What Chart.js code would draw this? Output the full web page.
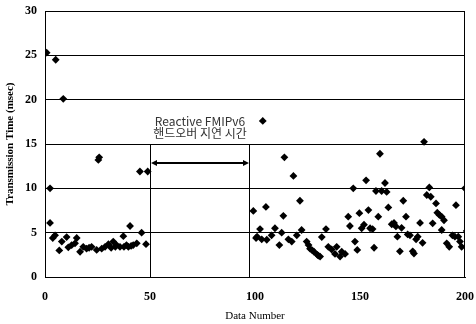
<!DOCTYPE html>
<html>
<head>
<meta charset="utf-8">
<script src="https://cdn.jsdelivr.net/npm/chart.js@4/dist/chart.umd.min.js"></script>
<style>
  html, body { margin: 0; padding: 0; background: #fff; }
</style>
</head>
<body>
<canvas id="chart" width="476" height="324"></canvas>
<script>
// --- data ---
const dataNumber = [
  0.8, 5.1, 8.7, 2.4, 2.4, 4.8, 3.7, 8, 6.8, 10.3, 11.1, 12.7, 15.1, 14.3, 16.7, 18.2, 19.8, 21, 22.2, 24.6,
  25.4, 25.8, 27, 28.6, 30.2, 31.5, 32.5, 33.5, 34.1, 35.7, 37.3, 37.6, 38.8, 39.7, 40.5, 41, 42, 43.7,
  45.2, 46, 48.1, 48.9,
  103.7, 114, 118.3, 121.4, 99.2, 105.2, 113.5, 102.4, 100.5, 103.2, 105.6, 107.9, 109.5, 111.6, 112.7,
  115.9, 117.5, 119.9, 122.2, 124.6, 126.2, 128.1, 129.7, 131, 131.8, 133.8, 134.9, 136.5, 138.1, 138.9,
  140.5, 141.3, 142.9, 144.4, 145.2, 146.8, 147.6, 148.7, 149.7, 150.8, 151.9, 152.9, 154, 154.8, 156,
  156.7, 157.6, 158.7, 159.5, 160.3, 161.9, 162.7, 163.5, 165.1, 166.2, 167.1, 167.8, 169, 169.8, 170.6,
  171.9, 172.7, 173.8, 175.1, 175.7, 176.7, 177.5, 178.6, 179.8, 180.5, 181.8, 183, 183.7, 184.6, 186.2,
  186.8, 187.8, 188.9, 188.9, 190, 191.3, 192.5, 194, 195.2, 195.7, 196.8, 197.6, 198.4, 200, 200.8,
  101, 125.5, 127.3, 130.2
];
const transmissionTime = [
  25.3, 24.5, 20.1, 10.0, 6.1, 4.7, 4.4, 4.0, 3.0, 4.5, 3.35, 3.6, 4.4, 3.8, 2.85, 3.4, 3.2, 3.3, 3.4, 3.05,
  13.2, 13.5, 3.2, 3.4, 3.7, 3.3, 4.0, 3.4, 3.6, 3.4, 4.6, 3.4, 3.6, 3.4, 5.75, 3.5, 3.6, 3.8,
  11.9, 5.0, 3.7, 11.9,
  17.6, 13.5, 11.4, 8.6, 7.45, 7.9, 6.9, 5.4, 4.4, 4.25, 4.2, 4.7, 5.5, 3.6, 5.0,
  4.25, 4.0, 4.7, 5.3, 4.0, 3.2, 2.85, 2.5, 2.3, 4.5, 5.4, 3.4, 3.1, 2.6, 3.4,
  2.3, 2.85, 2.6, 6.8, 5.75, 10.0, 4.0, 3.05, 7.2, 5.5, 5.9, 10.9, 7.55, 5.5, 5.4,
  3.3, 9.7, 6.8, 13.9, 9.7, 10.6, 9.6, 7.85, 5.95, 6.1, 5.7, 4.55, 2.9, 5.55, 8.6,
  6.8, 4.8, 4.7, 2.9, 2.65, 4.25, 4.55, 6.1, 3.85, 15.25, 9.25, 10.1, 9.05, 6.05, 8.3,
  7.25, 7.0, 6.8, 5.3, 6.4, 3.8, 3.4, 4.7, 4.55, 8.1, 4.55, 4.0, 3.4, 10.0, 5.2,
  4.55, 3.6, 3.0, 2.4
];
const xTicks = [0, 50, 100, 150, 200];
const yTicks = [0, 5, 10, 15, 20, 25, 30];

// handoff gap annotation
const handoffStart = 50;
const handoffEnd = 97;
const handoffTop = 15;
const arrowLevel = 12.9;
const noteLines = ['Reactive FMIPv6', '핸드오버 지연 시간'];
const noteX = 73.8;
const noteY = [17.6, 16.2];

const serif = '"Liberation Serif", "DejaVu Serif", serif';

const handoffNote = {
  id: 'handoffNote',
  afterDatasetsDraw(chart) {
    const { ctx, scales: { x, y } } = chart;
    const xa = Math.round(x.getPixelForValue(handoffStart));
    const xb = Math.round(x.getPixelForValue(handoffEnd));
    const y0 = y.getPixelForValue(0);
    const yt = y.getPixelForValue(handoffTop);
    const ya = Math.round(y.getPixelForValue(arrowLevel));
    ctx.save();
    ctx.strokeStyle = '#000';
    ctx.fillStyle = '#000';
    ctx.lineWidth = 1;
    ctx.beginPath();
    ctx.moveTo(xa + 0.5, y0); ctx.lineTo(xa + 0.5, yt);
    ctx.moveTo(xb + 0.5, y0); ctx.lineTo(xb + 0.5, yt);
    ctx.stroke();
    // double arrow
    ctx.lineWidth = 2;
    ctx.beginPath();
    ctx.moveTo(xa + 4, ya); ctx.lineTo(xb - 4, ya);
    ctx.stroke();
    ctx.beginPath();
    ctx.moveTo(xa + 1, ya); ctx.lineTo(xa + 7, ya - 3); ctx.lineTo(xa + 7, ya + 3); ctx.closePath();
    ctx.moveTo(xb, ya); ctx.lineTo(xb - 6, ya - 3); ctx.lineTo(xb - 6, ya + 3); ctx.closePath();
    ctx.fill();
    // note text
    ctx.fillStyle = '#333';
    ctx.textAlign = 'center';
    ctx.textBaseline = 'middle';
    ctx.font = '12px "Noto Sans CJK KR", "Noto Sans", sans-serif';
    noteLines.forEach((t, i) => {
      ctx.fillText(t, x.getPixelForValue(noteX), y.getPixelForValue(noteY[i]));
    });
    ctx.restore();
  }
};

const frame = {
  id: 'frame',
  afterDraw(chart) {
    const { ctx, chartArea: a } = chart;
    ctx.save();
    ctx.strokeStyle = '#000';
    ctx.lineWidth = 1;
    ctx.beginPath();
    ctx.moveTo(a.right - 0.5, a.top); ctx.lineTo(a.right - 0.5, a.bottom);
    ctx.moveTo(a.left, a.top + 0.5); ctx.lineTo(a.right, a.top + 0.5);
    ctx.stroke();
    ctx.restore();
  }
};

new Chart(document.getElementById('chart'), {
  type: 'scatter',
  data: {
    datasets: [{
      data: dataNumber.map((v, i) => ({ x: v, y: transmissionTime[i] })),
      pointStyle: 'rectRot',
      pointRadius: 3.9,
      backgroundColor: '#000',
      borderColor: '#000',
      borderWidth: 0
    }]
  },
  options: {
    responsive: false,
    animation: false,
    devicePixelRatio: 1,
    layout: { padding: { top: 11, right: 11, left: 0, bottom: 0 } },
    plugins: { legend: { display: false }, tooltip: { enabled: false } },
    scales: {
      x: {
        type: 'linear',
        min: 0, max: 200,
        afterBuildTicks: s => { s.ticks = xTicks.map(v => ({ value: v })); },
        afterFit: s => { s.height = 47; s.paddingLeft = 0; s.paddingRight = 0; },
        grid: { display: false, drawTicks: false },
        border: { color: '#000', width: 1 },
        ticks: { color: '#000', padding: 13, font: { family: serif, size: 12, weight: 'bold' } },
        title: { display: true, text: 'Data Number', color: '#000', padding: { top: 0, bottom: 1 },
                 font: { family: serif, size: 11 } }
      },
      y: {
        type: 'linear',
        min: 0, max: 30,
        afterBuildTicks: s => { s.ticks = yTicks.map(v => ({ value: v })); },
        afterFit: s => { s.width = 45; s.paddingTop = 0; s.paddingBottom = 0; },
        grid: { color: '#000', lineWidth: 1, drawTicks: false },
        border: { color: '#000', width: 1 },
        ticks: { color: '#000', padding: 8, font: { family: serif, size: 12, weight: 'bold' } },
        title: { display: true, text: 'Transmission Time (msec)', color: '#000', padding: { top: 4, bottom: 0 },
                 font: { family: serif, size: 11, weight: 'bold' } }
      }
    }
  },
  plugins: [handoffNote, frame]
});
</script>
</body>
</html>
